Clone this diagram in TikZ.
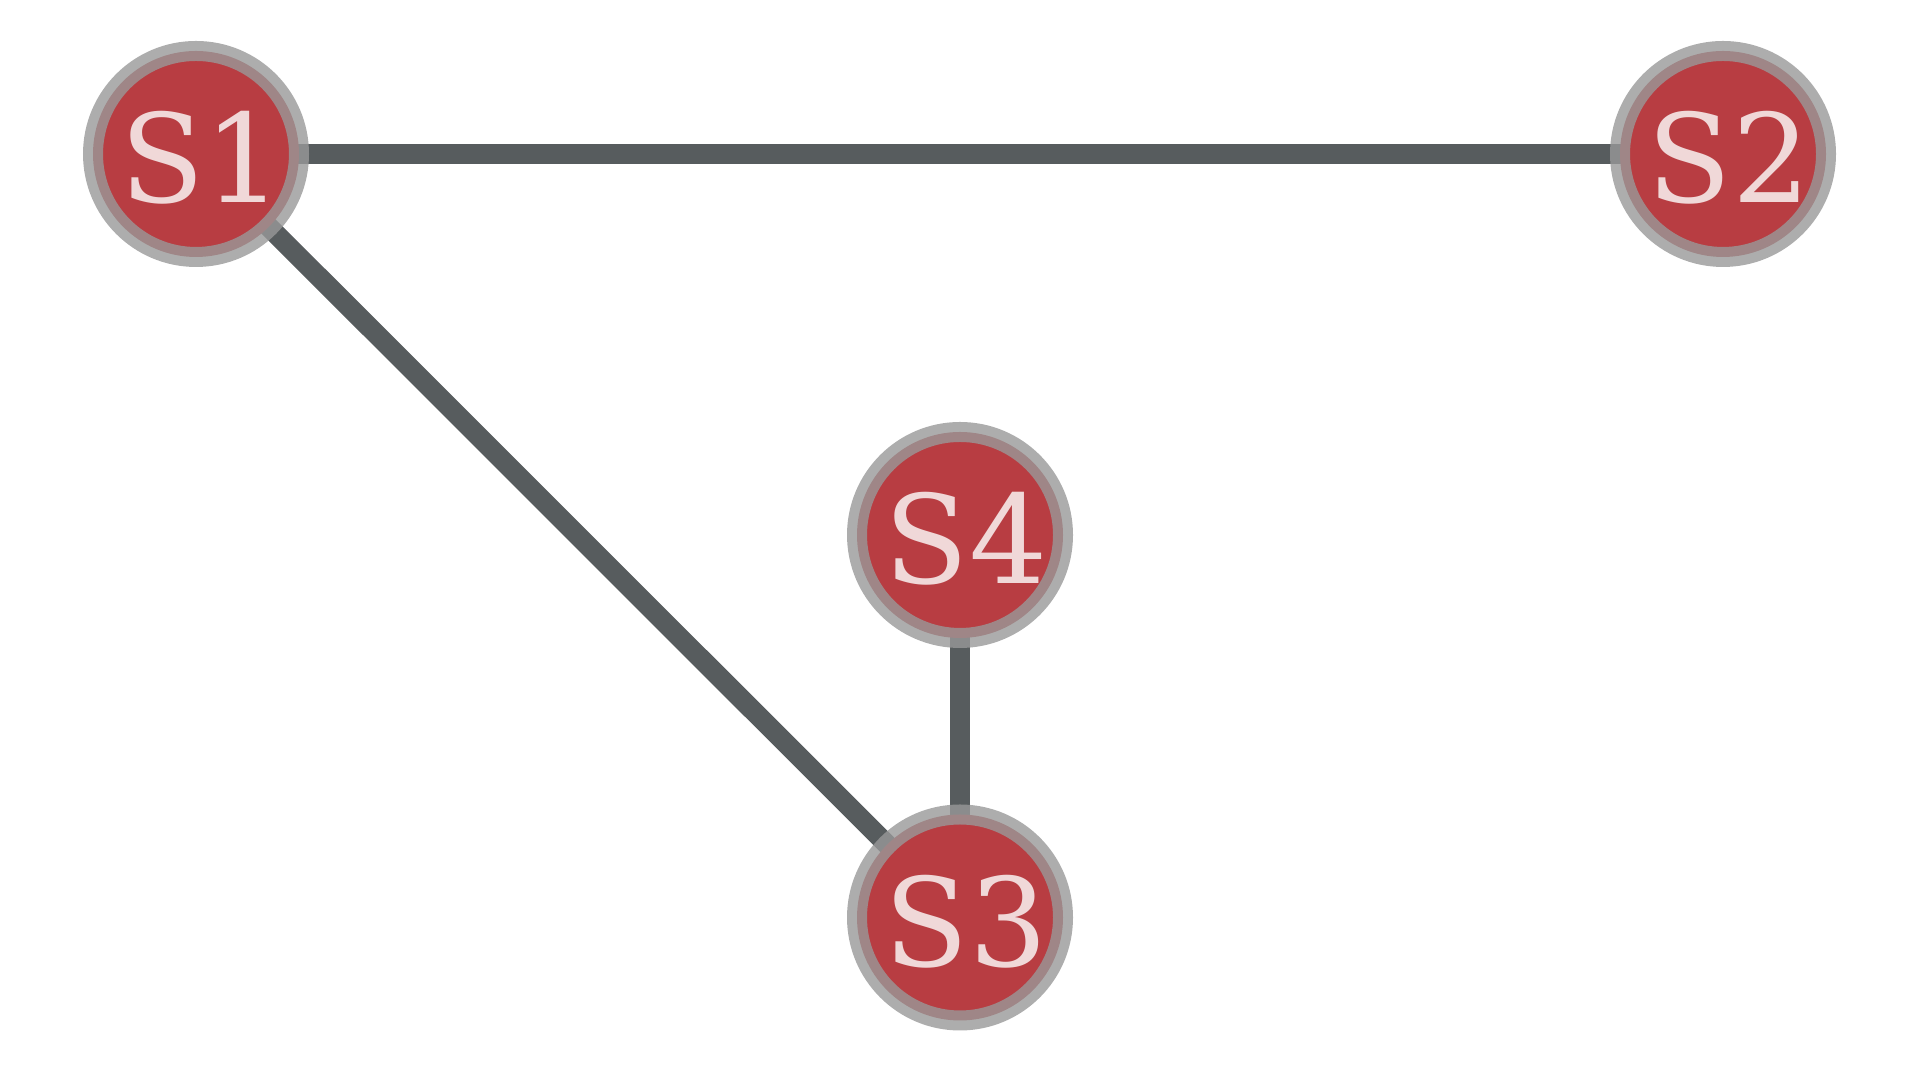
\documentclass[tikz,border=0pt]{standalone}
\usepackage{fontspec}
\setmainfont{DejaVu Serif}
\usepackage{xcolor}
\usetikzlibrary{positioning,backgrounds}
\definecolor{nodered}{RGB}{184,61,66}
\definecolor{ringgray}{RGB}{153,153,153}
\definecolor{edgegray}{RGB}{87,92,94}
\definecolor{labelpink}{RGB}{240,216,216}

\begin{document}
\begin{tikzpicture}
            \tikzstyle{site} = [circle, fill=nodered, draw=ringgray, draw opacity=0.8, line width=0.2cm, minimum size=2.06cm, inner sep=0pt, text=labelpink, text height=0.98cm, text depth=0cm, font=\fontsize{35}{40}\selectfont, execute at begin node={\kern0.12cm}]
            \tikzstyle{link} = [edgegray, line width=0.2cm]

            \useasboundingbox (0,0) rectangle (19.2,10.72);

            \node [site] (s1) at (1.96,9.18) {S1};
            \node [site] (s2) at (17.23,9.18) {S2};
            \node [site] (s4) at (9.60,5.37) {S4};
            \node [site] (s3) at (9.60,1.545) {S3};

            \begin{scope}[on background layer]
                \draw [link] (s1.center) -- (s2.center);
                \draw [link] (s1.center) -- (s3.center);
                \draw [link] (s4.center) -- (s3.center);
            \end{scope}
        \end{tikzpicture}
\end{document}
